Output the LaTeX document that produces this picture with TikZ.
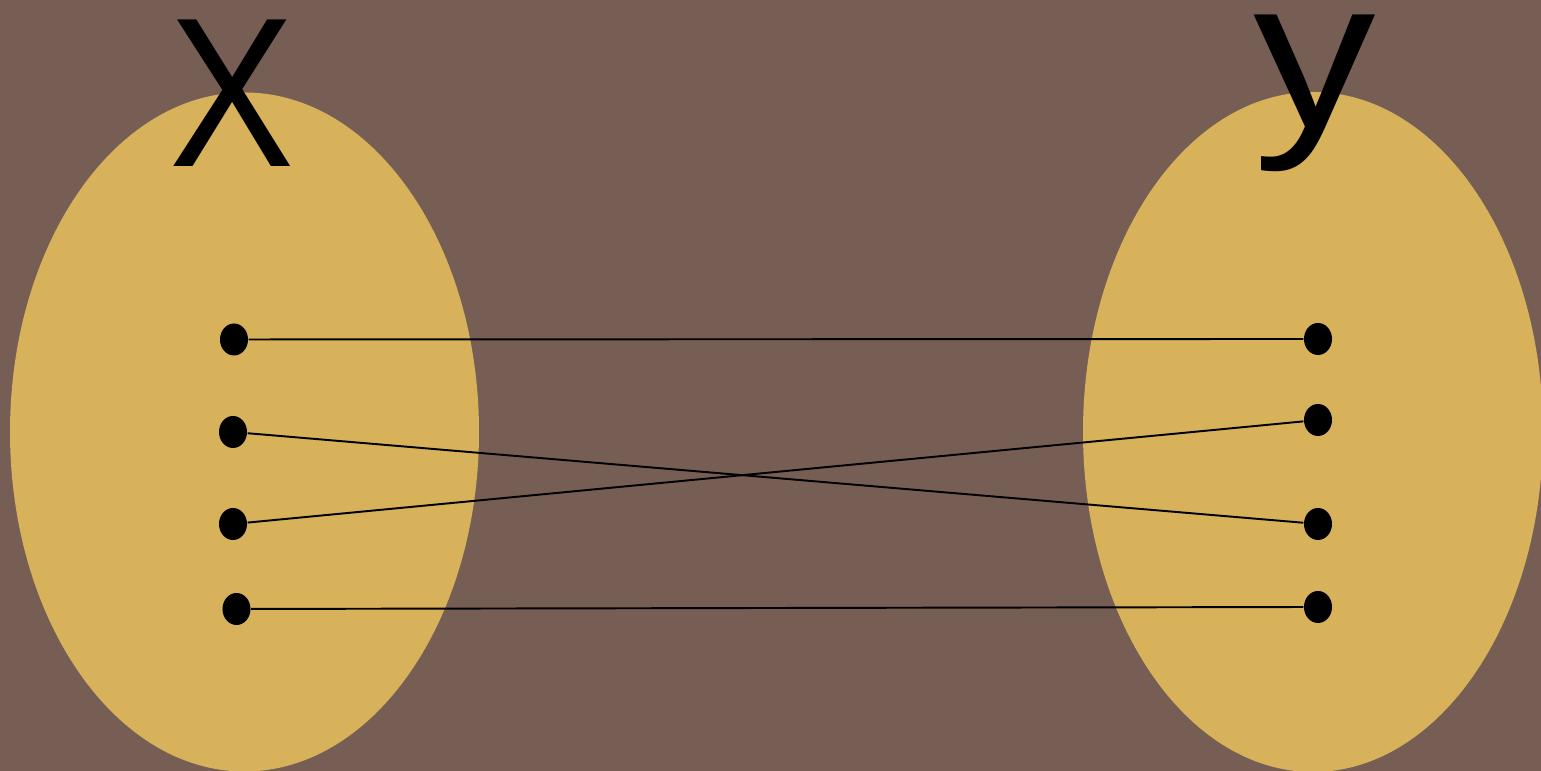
\documentclass[tikz,border=0pt]{standalone}
\usepackage{fontspec}
\setmainfont{Liberation Sans}
\usetikzlibrary{shapes.geometric}
\definecolor{bgbrown}{HTML}{765E55}
\definecolor{setgold}{HTML}{D8B15B}
\tikzset{
  setblob/.style={fill=setgold, draw=none},
  dot/.style={ellipse, fill=black, draw=none, inner sep=0pt, minimum width=0.28cm, minimum height=0.32cm},
  maparrow/.style={draw=black, line width=0.55pt},
  setlabel/.style={inner sep=0pt, anchor=base, font=\fontsize{60.6}{70}\selectfont}
}
\begin{document}
\begin{tikzpicture}[x=0.01cm, y=-0.01cm]
\useasboundingbox (0,0) rectangle (1541,771);
\fill[bgbrown] (0,0) rectangle (1541,771);
\fill[setblob] (244.5,432) ellipse [x radius=234.5, y radius=339.5];
\fill[setblob] (1313,432) ellipse [x radius=230, y radius=340];
\node[setlabel, xscale=0.88] (X) at (232,167) {X};
\node[setlabel, xscale=1.15] (Y) at (1315,128) {y};
\node[dot] (a1) at (234,339.5) {};
\node[dot] (a2) at (233,432) {};
\node[dot] (a3) at (233,524) {};
\node[dot] (a4) at (236.5,609) {};
\node[dot] (b1) at (1318,339) {};
\node[dot] (b2) at (1318,420) {};
\node[dot] (b3) at (1318,524) {};
\node[dot] (b4) at (1318,607) {};
\draw[maparrow] (a1) -- (b1);
\draw[maparrow] (a2) -- (b3);
\draw[maparrow] (a3) -- (b2);
\draw[maparrow] (a4) -- (b4);
\end{tikzpicture}
\end{document}
